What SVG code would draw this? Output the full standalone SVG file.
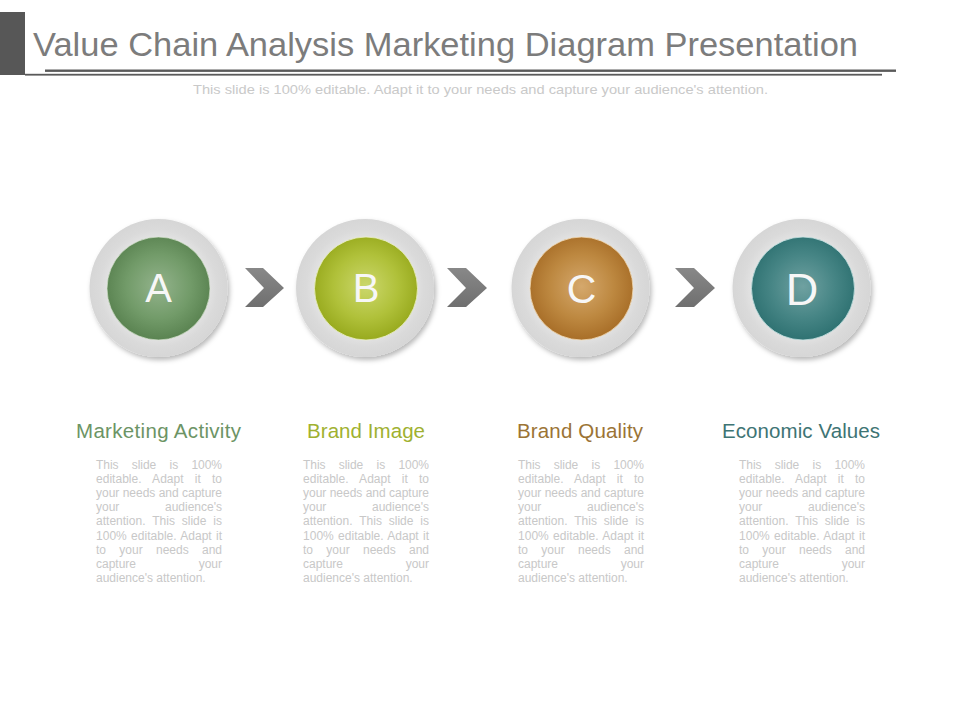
<svg xmlns="http://www.w3.org/2000/svg" width="960" height="720" viewBox="0 0 960 720">
<defs>
<style>
.title{font-family:"Liberation Sans",Arial,sans-serif;font-size:33px;fill:#7c7c7c}
.sub{font-family:"Liberation Sans",Arial,sans-serif;font-size:13px;fill:#c9c9c9}
.letter{font-family:"Liberation Sans",Arial,sans-serif;fill:#f7f7f7;text-anchor:middle}
.label{font-family:"Liberation Sans",Arial,sans-serif;font-size:20.5px;text-anchor:middle}
.body{font-family:"Liberation Sans",Arial,sans-serif;font-size:12px;fill:#c8c8c8}
.ring{fill:url(#ringG);filter:url(#sh)}
.chev{fill:url(#chevG)}
</style>
<filter id="sh" x="-20%" y="-20%" width="150%" height="150%">
<feDropShadow dx="2" dy="3" stdDeviation="2.5" flood-color="#000" flood-opacity="0.28"/>
</filter>
<radialGradient id="ringG" cx="50%" cy="50%" r="50%">
<stop offset="0.7" stop-color="#e4e4e4"/>
<stop offset="0.85" stop-color="#dadada"/>
<stop offset="1" stop-color="#d6d6d6"/>
</radialGradient>
<linearGradient id="chevG" x1="0" y1="0" x2="0" y2="1">
<stop offset="0" stop-color="#888"/>
<stop offset="1" stop-color="#6f6f6f"/>
</linearGradient>
<radialGradient id="gA" cx="50%" cy="48%" r="52%">
<stop offset="0" stop-color="#93b38c"/>
<stop offset="0.6" stop-color="#729b69"/>
<stop offset="1" stop-color="#5a8351"/>
</radialGradient>
<radialGradient id="gB" cx="50%" cy="48%" r="52%">
<stop offset="0" stop-color="#cbd76c"/>
<stop offset="0.6" stop-color="#b0c13a"/>
<stop offset="1" stop-color="#98aa1e"/>
</radialGradient>
<radialGradient id="gC" cx="50%" cy="48%" r="52%">
<stop offset="0" stop-color="#d5a86c"/>
<stop offset="0.6" stop-color="#bd8840"/>
<stop offset="1" stop-color="#a86e28"/>
</radialGradient>
<radialGradient id="gD" cx="50%" cy="48%" r="52%">
<stop offset="0" stop-color="#6fa1a1"/>
<stop offset="0.6" stop-color="#468585"/>
<stop offset="1" stop-color="#2f7272"/>
</radialGradient>
</defs>
<rect width="960" height="720" fill="#fff"/>

<g id="header">
<rect x="0" y="12" width="25" height="63" fill="#575757"/>
<text class="title" x="33" y="56" textLength="825" lengthAdjust="spacingAndGlyphs">Value Chain Analysis Marketing Diagram Presentation</text>
<rect x="45" y="69.5" width="851" height="2.4" fill="#5a5a5a"/>
<rect x="25" y="73.8" width="857" height="1.8" fill="#5a5a5a"/>
<text class="sub" x="193" y="94" textLength="575" lengthAdjust="spacingAndGlyphs">This slide is 100% editable. Adapt it to your needs and capture your audience's attention.</text>
</g>

<g id="connectors">
<path class="chev" d="M245,268 L263,268 L284,288 L263,307 L245,307 L264,288 Z"/>
<path class="chev" d="M447,268 L466,268 L487,288 L466,307 L447,307 L466,288 Z"/>
<path class="chev" d="M675,268 L694,268 L715,288 L694,307 L675,307 L694,288 Z"/>
</g>

<g id="node-a">
<circle class="ring" cx="158.5" cy="288" r="69"/>
<circle cx="158.5" cy="288.5" r="51.5" fill="url(#gA)" stroke="#d8e6d2" stroke-opacity="0.7" stroke-width="1"/>
<text class="letter" x="158.5" y="302" font-size="40">A</text>
<text class="label" x="158.5" y="438" fill="#6c9465" textLength="165" lengthAdjust="spacing">Marketing Activity</text>
<g class="body">
<text x="96" y="468.5" word-spacing="10.1" textLength="126" lengthAdjust="spacing">This slide is 100%</text>
<text x="96" y="482.7" word-spacing="7.8" textLength="126" lengthAdjust="spacing">editable. Adapt it to</text>
<text x="96" y="496.9" textLength="126" lengthAdjust="spacing">your needs and capture</text>
<text x="96" y="511.1">your</text><text x="222" y="511.1" text-anchor="end">audience's</text>
<text x="96" y="525.3" word-spacing="3.5" textLength="126" lengthAdjust="spacing">attention. This slide is</text>
<text x="96" y="539.5" word-spacing="0.9" textLength="126" lengthAdjust="spacing">100% editable. Adapt it</text>
<text x="96" y="553.7" word-spacing="10" textLength="126" lengthAdjust="spacing">to your needs and</text>
<text x="96" y="567.9">capture</text><text x="222" y="567.9" text-anchor="end">your</text>
<text x="96" y="582.1">audience's attention.</text>
</g>
</g>

<g id="node-b">
<circle class="ring" cx="365" cy="288" r="69"/>
<circle cx="366" cy="288.5" r="51.5" fill="url(#gB)" stroke="#eef2c8" stroke-opacity="0.8" stroke-width="1"/>
<text class="letter" x="366" y="302" font-size="40">B</text>
<text class="label" x="366" y="438" fill="#9fb130" textLength="118" lengthAdjust="spacing">Brand Image</text>
<g class="body">
<text x="303" y="468.5" word-spacing="10.1" textLength="126" lengthAdjust="spacing">This slide is 100%</text>
<text x="303" y="482.7" word-spacing="7.8" textLength="126" lengthAdjust="spacing">editable. Adapt it to</text>
<text x="303" y="496.9" textLength="126" lengthAdjust="spacing">your needs and capture</text>
<text x="303" y="511.1">your</text><text x="429" y="511.1" text-anchor="end">audience's</text>
<text x="303" y="525.3" word-spacing="3.5" textLength="126" lengthAdjust="spacing">attention. This slide is</text>
<text x="303" y="539.5" word-spacing="0.9" textLength="126" lengthAdjust="spacing">100% editable. Adapt it</text>
<text x="303" y="553.7" word-spacing="10" textLength="126" lengthAdjust="spacing">to your needs and</text>
<text x="303" y="567.9">capture</text><text x="429" y="567.9" text-anchor="end">your</text>
<text x="303" y="582.1">audience's attention.</text>
</g>
</g>

<g id="node-c">
<circle class="ring" cx="580.5" cy="288" r="69"/>
<circle cx="581.5" cy="288.5" r="51.5" fill="url(#gC)" stroke="#f3dcb8" stroke-opacity="0.8" stroke-width="1"/>
<text class="letter" x="581.5" y="303" font-size="41">C</text>
<text class="label" x="580" y="438" fill="#9b7435" textLength="126" lengthAdjust="spacing">Brand Quality</text>
<g class="body">
<text x="518" y="468.5" word-spacing="10.1" textLength="126" lengthAdjust="spacing">This slide is 100%</text>
<text x="518" y="482.7" word-spacing="7.8" textLength="126" lengthAdjust="spacing">editable. Adapt it to</text>
<text x="518" y="496.9" textLength="126" lengthAdjust="spacing">your needs and capture</text>
<text x="518" y="511.1">your</text><text x="644" y="511.1" text-anchor="end">audience's</text>
<text x="518" y="525.3" word-spacing="3.5" textLength="126" lengthAdjust="spacing">attention. This slide is</text>
<text x="518" y="539.5" word-spacing="0.9" textLength="126" lengthAdjust="spacing">100% editable. Adapt it</text>
<text x="518" y="553.7" word-spacing="10" textLength="126" lengthAdjust="spacing">to your needs and</text>
<text x="518" y="567.9">capture</text><text x="644" y="567.9" text-anchor="end">your</text>
<text x="518" y="582.1">audience's attention.</text>
</g>
</g>

<g id="node-d">
<circle class="ring" cx="801.5" cy="288" r="69"/>
<circle cx="803" cy="288.5" r="51.5" fill="url(#gD)" stroke="#c8e4e4" stroke-opacity="0.8" stroke-width="1"/>
<text class="letter" x="802" y="305" font-size="45">D</text>
<text class="label" x="801" y="438" fill="#3e7474" textLength="158" lengthAdjust="spacing">Economic Values</text>
<g class="body">
<text x="739" y="468.5" word-spacing="10.1" textLength="126" lengthAdjust="spacing">This slide is 100%</text>
<text x="739" y="482.7" word-spacing="7.8" textLength="126" lengthAdjust="spacing">editable. Adapt it to</text>
<text x="739" y="496.9" textLength="126" lengthAdjust="spacing">your needs and capture</text>
<text x="739" y="511.1">your</text><text x="865" y="511.1" text-anchor="end">audience's</text>
<text x="739" y="525.3" word-spacing="3.5" textLength="126" lengthAdjust="spacing">attention. This slide is</text>
<text x="739" y="539.5" word-spacing="0.9" textLength="126" lengthAdjust="spacing">100% editable. Adapt it</text>
<text x="739" y="553.7" word-spacing="10" textLength="126" lengthAdjust="spacing">to your needs and</text>
<text x="739" y="567.9">capture</text><text x="865" y="567.9" text-anchor="end">your</text>
<text x="739" y="582.1">audience's attention.</text>
</g>
</g>
</svg>
